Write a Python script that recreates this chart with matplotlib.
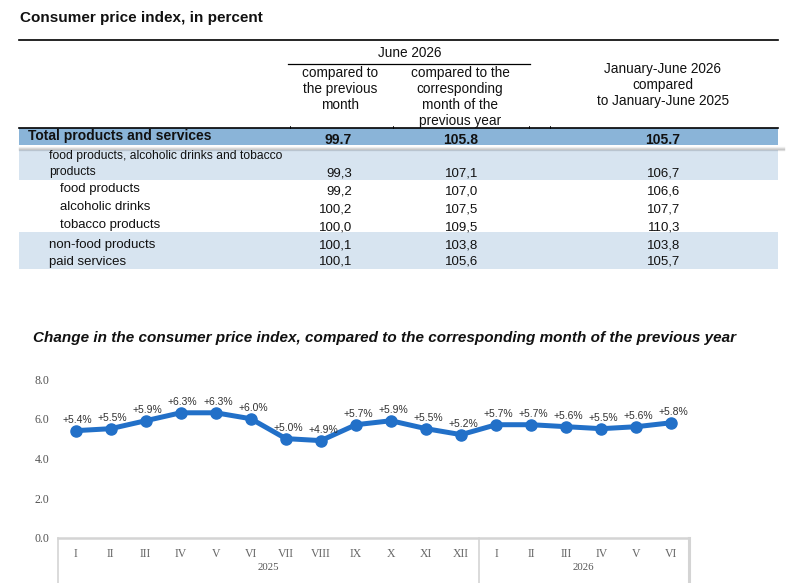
import matplotlib
matplotlib.use("Agg")
import matplotlib.pyplot as plt
from matplotlib.patches import Rectangle
from matplotlib.lines import Line2D
import matplotlib.transforms as mtransforms

# ---------------- data ----------------
table_title = "Consumer price index, in percent"
group_header = "June 2026"
col_headers = ["compared to\nthe previous\nmonth",
               "compared to the\ncorresponding\nmonth of the\nprevious year",
               "January-June 2026\ncompared\nto January-June 2025"]
total_label = "Total products and services"
total_values = ["99.7", "105.8", "105.7"]
row_labels = ["food products, alcoholic drinks and tobacco\nproducts",
              "food products", "alcoholic drinks", "tobacco products",
              "non-food products", "paid services"]
row_prev_month = ["99,3", "99,2", "100,2", "100,0", "100,1", "100,1"]
row_prev_year = ["107,1", "107,0", "107,5", "109,5", "103,8", "105,6"]
row_ytd = ["106,7", "106,6", "107,7", "110,3", "103,8", "105,7"]

chart_title = ("Change in the consumer price index, compared to the "
               "corresponding month of the previous year")
months = ["I", "II", "III", "IV", "V", "VI", "VII", "VIII", "IX", "X", "XI", "XII",
          "I", "II", "III", "IV", "V", "VI"]
years = ["2025", "2026"]
months_per_year = [12, 6]
yoy_change = [5.4, 5.5, 5.9, 6.3, 6.3, 6.0, 5.0, 4.9, 5.7, 5.9, 5.5, 5.2,
              5.7, 5.7, 5.6, 5.5, 5.6, 5.8]
y_ticks = [0.0, 2.0, 4.0, 6.0, 8.0]

# ---------------- figure ----------------
W, H = 796, 583
plt.rcParams['font.family'] = ['Liberation Sans', 'DejaVu Sans']
fig = plt.figure(figsize=(W / 100, H / 100), dpi=100)

# Table drawn on a pixel-coordinate overlay axes
tab = fig.add_axes([0, 0, 1, 1])
tab.set_xlim(0, W)
tab.set_ylim(H, 0)
tab.axis('off')

dark = "#111111"
band_dark = "#8ab4d8"
band_light = "#d7e4f0"
L, R = 19, 778

tab.text(20, 22, table_title, fontsize=11, fontweight='bold', va='baseline', ha='left', color=dark)
tab.add_line(Line2D([L, R], [40, 40], color='black', lw=1.2))
tab.text(410, 57, group_header, fontsize=9.8, ha='center', va='baseline', color=dark)
tab.add_line(Line2D([288, 530], [64, 64], color='black', lw=0.9))

col_centers = [340, 460, 663]
col_right = [352, 478, 680]
col_base = [77, 77, 73]
for cx, by, txt in zip(col_centers, col_base, col_headers):
    for j, line in enumerate(txt.split("\n")):
        tab.text(cx, by + 16 * j, line, fontsize=9.8, ha='center', va='baseline', color=dark)

# total row
tab.add_patch(Rectangle((L, 128), R - L, 17, facecolor=band_dark, edgecolor='none'))
tab.add_line(Line2D([L, R], [128, 128], color='black', lw=1.2))
for tx in [290, 393, 529, 550]:
    tab.add_line(Line2D([tx, tx], [125.5, 128], color='black', lw=0.6))
# shadow under total row
for i, a in enumerate([0.05, 0.11, 0.18, 0.10]):
    tab.add_line(Line2D([L, R + 6], [147 + i, 147 + i], color='black', lw=1, alpha=a))
tab.text(28, 140, total_label, fontsize=10, fontweight='bold', ha='left', va='baseline', color=dark)
for xr, v in zip(col_right, total_values):
    tab.text(xr, 144, v, fontsize=10, fontweight='bold', ha='right', va='baseline', color=dark)

# light bands
tab.add_patch(Rectangle((L, 150), R - L, 30, facecolor=band_light, edgecolor='none'))
tab.add_patch(Rectangle((L, 232), R - L, 37, facecolor=band_light, edgecolor='none'))

label_x = [49, 60, 60, 60, 49, 49]
label_base = [159, 192, 210, 228, 248, 265]
value_base = [176, 194, 212, 230, 248, 265]
for i, lab in enumerate(row_labels):
    lines = lab.split("\n")
    fs = 8.7 if len(lines) > 1 else 9.5
    for j, line in enumerate(lines):
        tab.text(label_x[i], label_base[i] + 16 * j, line, fontsize=fs, ha='left',
                 va='baseline', color=dark)
    for xr, vals in zip(col_right, [row_prev_month, row_prev_year, row_ytd]):
        tab.text(xr, value_base[i], vals[i], fontsize=9.5, ha='right', va='baseline', color=dark)

tab.text(33, 342, chart_title, fontsize=11, fontweight='bold', fontstyle='italic',
         ha='left', va='baseline', color=dark)

# ---------------- line chart ----------------
x0, x1 = 58, 689
y_zero, y_eight = 538, 379
ax = fig.add_axes([x0 / W, 1 - y_zero / H, (x1 - x0) / W, (y_zero - y_eight) / H])
n = len(months)
xs = list(range(n))
ax.set_xlim(-0.5, n - 0.5)
ax.set_ylim(0, 8)
for s in ax.spines.values():
    s.set_visible(False)
serif = ['Liberation Serif', 'DejaVu Serif']
ax.set_yticks(y_ticks)
ax.set_yticklabels([f"{t:.1f}" for t in y_ticks], family=serif, fontsize=8.6, color='#555555')
ax.tick_params(axis='y', length=0, pad=6)
ax.set_xticks(xs)
ax.set_xticklabels(months, family=serif, fontsize=8.5, color='#666666')
ax.tick_params(axis='x', length=0, pad=7)

line_color = "#2270c8"
ax.plot(xs, yoy_change, color=line_color, lw=3.6, marker='o', markersize=8,
        markerfacecolor=line_color, markeredgecolor=line_color, clip_on=False, zorder=3)
for x, v in zip(xs, yoy_change):
    ax.annotate(f"+{v:.1f}%", (x, v), xytext=(1.5, 7.5), textcoords='offset points',
                ha='center', va='center', fontsize=7.5, color='#333333',
                annotation_clip=False)

# axis box for categories
grid_c = '#d4d4d4'
trans = mtransforms.blended_transform_factory(ax.transData, fig.transFigure)
ax.add_line(Line2D([-0.5, n - 0.5], [1 - y_zero / H, 1 - y_zero / H], transform=trans,
                   color=grid_c, lw=1.8, clip_on=False))
bounds = [-0.5]
for m in months_per_year:
    bounds.append(bounds[-1] + m)
for i, b in enumerate(bounds):
    ax.add_line(Line2D([b, b], [0, 1 - y_zero / H], transform=trans, color=grid_c,
                       lw=2.2 if i == len(bounds) - 1 else 1.2, clip_on=False))
for i, yr in enumerate(years):
    mid = (bounds[i] + bounds[i + 1]) / 2
    ax.text(mid, 1 - 568 / H, yr, transform=trans, ha='center', va='center',
            family=serif, fontsize=7.8, color='#555555')

fig.savefig("out.png", dpi=100)
